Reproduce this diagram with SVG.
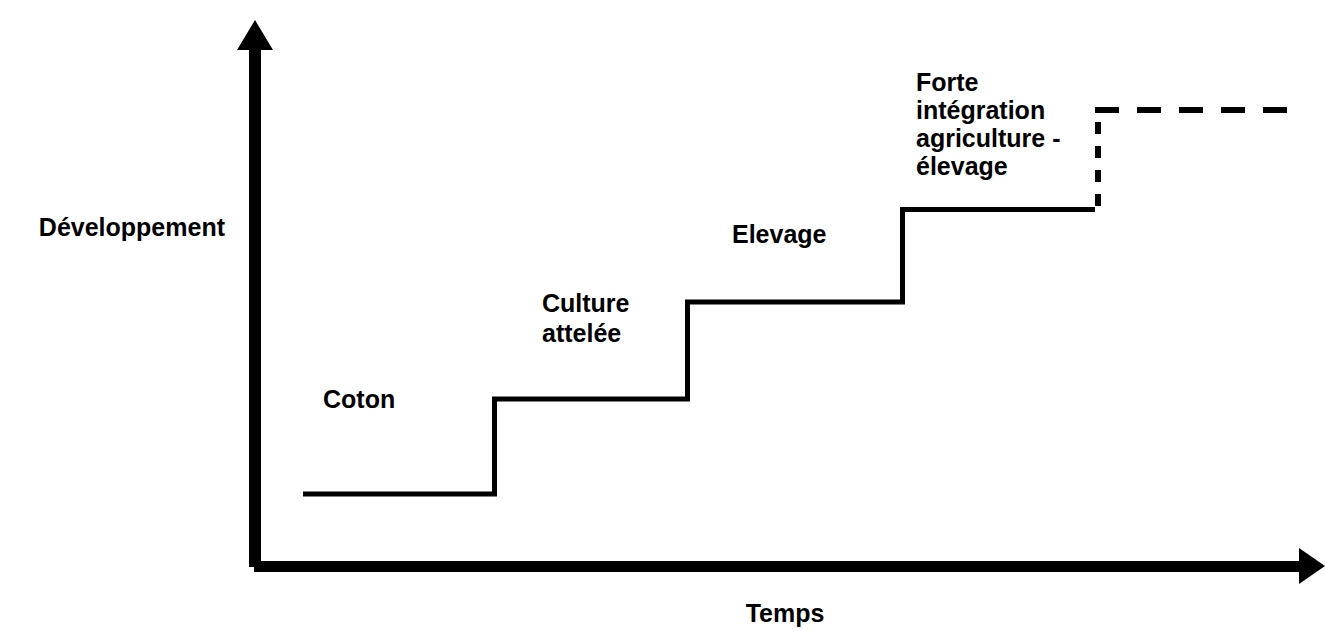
<svg xmlns="http://www.w3.org/2000/svg" width="1325" height="631" viewBox="0 0 1325 631">
<style>
.lbl{font-family:"Liberation Sans",Arial,sans-serif;font-weight:bold;font-size:25px;fill:#000}
.step{fill:none;stroke:#000;stroke-width:5;stroke-linejoin:miter}
.dash{fill:none;stroke:#000;stroke-width:6}
</style>
<rect width="1325" height="631" fill="#fff"/>
<g id="axes">
<rect x="249" y="46" width="12" height="521" fill="#000"/>
<polygon points="255,20 237,50 273,50" fill="#000"/>
<rect x="254" y="561" width="1048" height="11" fill="#000"/>
<polygon points="1299,548 1299,584 1325,566" fill="#000"/>
</g>
<g id="connectors">
<path class="step" d="M303,494 H494.5 V399 H687.5 V302 H902.5 V209.5 H1095"/>
<line class="dash" x1="1098" y1="122" x2="1098" y2="206" stroke-dasharray="12 12"/>
<line class="dash" x1="1095" y1="110" x2="1287" y2="110" stroke-dasharray="24 18"/>
</g>
<g id="axis-y-label"><text class="lbl" x="225" y="236" text-anchor="end">Développement</text></g>
<g id="axis-x-label"><text class="lbl" x="785" y="622" text-anchor="middle">Temps</text></g>
<g id="coton"><text class="lbl" x="323" y="408">Coton</text></g>
<g id="culture"><text class="lbl" x="542" y="312">Culture</text><text class="lbl" x="542" y="342">attelée</text></g>
<g id="elevage"><text class="lbl" x="732" y="243">Elevage</text></g>
<g id="forte"><text class="lbl" x="916" y="91">Forte</text><text class="lbl" x="916" y="119">intégration</text><text class="lbl" x="916" y="147">agriculture -</text><text class="lbl" x="916" y="175">élevage</text></g>
</svg>
